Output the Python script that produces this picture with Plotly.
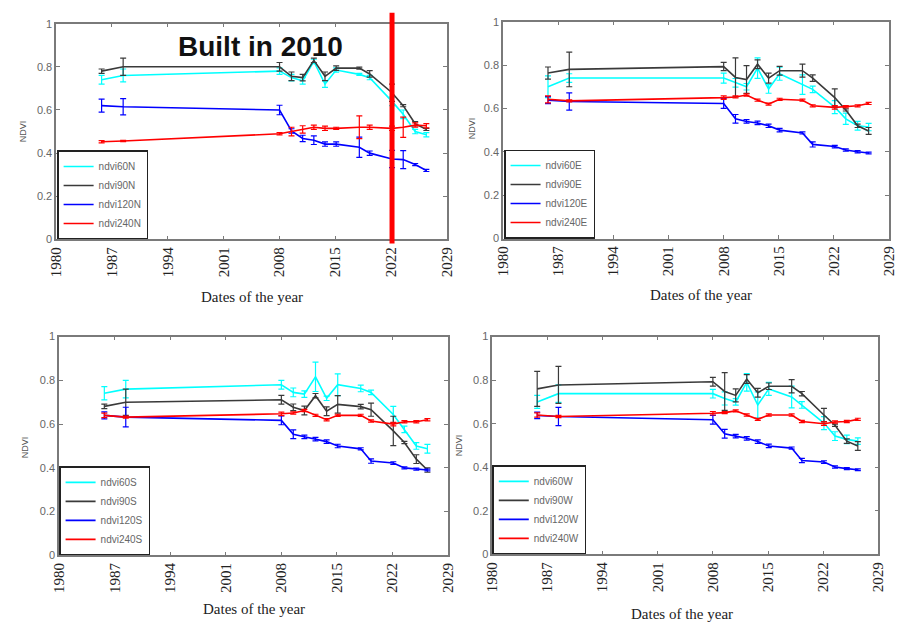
import plotly.graph_objects as go

# ---------------- data ----------------
years = [1985.7, 1988.4, 2008.0, 2009.5, 2010.9, 2012.3, 2013.7, 2015.1,
         2018.0, 2019.3, 2022.1, 2023.5, 2025.0, 2026.4]
x_ticks = [1980, 1987, 1994, 2001, 2008, 2015, 2022, 2029]
y_ticks = [0, 0.2, 0.4, 0.6, 0.8, 1]

# North
ndvi60N = [0.74, 0.76, 0.78, 0.75, 0.735, 0.825, 0.72, 0.785, 0.765, 0.75, 0.64, 0.58, 0.50, 0.485]
ndvi60N_err = [0.02, 0.03, 0.015, 0.015, 0.015, 0.01, 0.015, 0.01, 0.005, 0.01, 0.02, 0.02, 0.01, 0.01]
ndvi90N = [0.78, 0.80, 0.80, 0.756, 0.75, 0.83, 0.756, 0.794, 0.794, 0.767, 0.68, 0.62, 0.536, 0.51]
ndvi90N_err = [0.01, 0.04, 0.02, 0.02, 0.015, 0.01, 0.02, 0.01, 0.005, 0.015, 0.04, 0.005, 0.01, 0.005]
ndvi120N = [0.62, 0.615, 0.60, 0.503, 0.468, 0.46, 0.442, 0.442, 0.427, 0.40, 0.373, 0.37, 0.347, 0.32]
ndvi120N_err = [0.03, 0.038, 0.022, 0.01, 0.015, 0.02, 0.01, 0.01, 0.047, 0.01, 0.04, 0.042, 0.005, 0.005]
ndvi240N = [0.453, 0.456, 0.49, 0.50, 0.51, 0.52, 0.515, 0.515, 0.52, 0.52, 0.515, 0.52, 0.53, 0.527]
ndvi240N_err = [0.005, 0.003, 0.005, 0.02, 0.017, 0.01, 0.01, 0.005, 0.053, 0.01, 0.01, 0.047, 0.01, 0.01]

# East
ndvi60E = [0.70, 0.74, 0.74, 0.718, 0.70, 0.786, 0.69, 0.76, 0.71, 0.688, 0.606, 0.552, 0.52, 0.514]
ndvi60E_err = [0.05, 0.02, 0.023, 0.02, 0.015, 0.047, 0.02, 0.03, 0.045, 0.015, 0.03, 0.026, 0.02, 0.017]
ndvi90E = [0.763, 0.78, 0.793, 0.743, 0.733, 0.804, 0.74, 0.774, 0.774, 0.74, 0.65, 0.593, 0.52, 0.496]
ndvi90E_err = [0.028, 0.08, 0.019, 0.09, 0.064, 0.02, 0.023, 0.02, 0.03, 0.015, 0.04, 0.005, 0.008, 0.016]
ndvi120E = [0.638, 0.632, 0.623, 0.552, 0.54, 0.533, 0.52, 0.50, 0.487, 0.434, 0.424, 0.408, 0.40, 0.394]
ndvi120E_err = [0.016, 0.04, 0.023, 0.02, 0.008, 0.008, 0.008, 0.008, 0.005, 0.012, 0.006, 0.005, 0.005, 0.004]
ndvi240E = [0.642, 0.635, 0.65, 0.653, 0.662, 0.638, 0.62, 0.642, 0.638, 0.612, 0.605, 0.608, 0.612, 0.623]
ndvi240E_err = [0.016, 0.005, 0.008, 0.005, 0.005, 0.005, 0.005, 0.005, 0.005, 0.005, 0.008, 0.005, 0.005, 0.005]

# South
ndvi60S = [0.741, 0.76, 0.78, 0.745, 0.737, 0.816, 0.718, 0.78, 0.763, 0.745, 0.644, 0.576, 0.50, 0.487]
ndvi60S_err = [0.03, 0.04, 0.02, 0.02, 0.015, 0.067, 0.01, 0.05, 0.015, 0.01, 0.037, 0.015, 0.015, 0.02]
ndvi90S = [0.681, 0.70, 0.711, 0.677, 0.662, 0.73, 0.659, 0.69, 0.68, 0.666, 0.569, 0.516, 0.44, 0.39]
ndvi90S_err = [0.01, 0.06, 0.02, 0.015, 0.02, 0.01, 0.02, 0.04, 0.01, 0.03, 0.067, 0.005, 0.02, 0.01]
ndvi120S = [0.64, 0.632, 0.617, 0.554, 0.542, 0.531, 0.52, 0.50, 0.487, 0.431, 0.422, 0.40, 0.394, 0.39]
ndvi120S_err = [0.016, 0.045, 0.02, 0.02, 0.008, 0.008, 0.008, 0.008, 0.005, 0.01, 0.006, 0.005, 0.005, 0.004]
ndvi240S = [0.64, 0.632, 0.647, 0.651, 0.662, 0.64, 0.62, 0.64, 0.64, 0.614, 0.60, 0.611, 0.611, 0.62]
ndvi240S_err = [0.01, 0.005, 0.008, 0.005, 0.005, 0.005, 0.005, 0.005, 0.005, 0.005, 0.008, 0.005, 0.005, 0.005]

# West
ndvi60W = [0.70, 0.738, 0.738, 0.716, 0.70, 0.79, 0.686, 0.76, 0.723, 0.686, 0.603, 0.543, 0.528, 0.52]
ndvi60W_err = [0.03, 0.04, 0.02, 0.03, 0.015, 0.04, 0.06, 0.03, 0.05, 0.015, 0.03, 0.02, 0.02, 0.015]
ndvi90W = [0.76, 0.778, 0.793, 0.748, 0.73, 0.805, 0.742, 0.772, 0.772, 0.738, 0.64, 0.593, 0.52, 0.498]
ndvi90W_err = [0.08, 0.085, 0.02, 0.087, 0.03, 0.02, 0.02, 0.015, 0.03, 0.01, 0.03, 0.005, 0.01, 0.02]
ndvi120W = [0.638, 0.633, 0.618, 0.554, 0.543, 0.533, 0.518, 0.498, 0.488, 0.431, 0.424, 0.401, 0.394, 0.389]
ndvi120W_err = [0.015, 0.042, 0.02, 0.02, 0.008, 0.008, 0.008, 0.008, 0.005, 0.01, 0.006, 0.005, 0.005, 0.004]
ndvi240W = [0.64, 0.633, 0.648, 0.651, 0.659, 0.64, 0.62, 0.64, 0.64, 0.61, 0.60, 0.608, 0.61, 0.62]
ndvi240W_err = [0.01, 0.005, 0.008, 0.005, 0.005, 0.005, 0.005, 0.005, 0.005, 0.005, 0.008, 0.005, 0.005, 0.005]

built_year = 2022.1
annotation_text = "Built in 2010"

# ---------------- figure ----------------
W, H = 904, 632
colors = ["#00ffff", "#3a3a3a", "#0000ff", "#ff0000"]

panels = [
    dict(suffix="N", series=[(ndvi60N, ndvi60N_err), (ndvi90N, ndvi90N_err), (ndvi120N, ndvi120N_err), (ndvi240N, ndvi240N_err)],
         box=(49, 447, 18, 238), leg=(50, 238), title=(248, 297), ylab=(15, 128)),
    dict(suffix="E", series=[(ndvi60E, ndvi60E_err), (ndvi90E, ndvi90E_err), (ndvi120E, ndvi120E_err), (ndvi240E, ndvi240E_err)],
         box=(504, 897, 16, 237), leg=(505, 237), title=(705, 295), ylab=(472, 125)),
    dict(suffix="S", series=[(ndvi60S, ndvi60S_err), (ndvi90S, ndvi90S_err), (ndvi120S, ndvi120S_err), (ndvi240S, ndvi240S_err)],
         box=(52, 448, 337, 560), leg=(52, 560), title=(250, 615), ylab=(18, 450)),
    dict(suffix="W", series=[(ndvi60W, ndvi60W_err), (ndvi90W, ndvi90W_err), (ndvi120W, ndvi120W_err), (ndvi240W, ndvi240W_err)],
         box=(493, 886, 337, 559), leg=(493, 559), title=(686, 620), ylab=(460, 448)),
]
names = ["ndvi60", "ndvi90", "ndvi120", "ndvi240"]

fig = go.Figure()
layout = dict(width=W, height=H, margin=dict(l=0, r=0, t=0, b=0),
              paper_bgcolor="white", plot_bgcolor="white", showlegend=True,
              annotations=[], shapes=[])

for i, p in enumerate(panels):
    k = "" if i == 0 else str(i + 1)
    xa, ya = "x" + k, "y" + k
    lg = "legend" + k
    for j, (vals, errs) in enumerate(p["series"]):
        fig.add_trace(go.Scatter(
            x=years, y=vals, mode="lines", name=names[j] + p["suffix"],
            line=dict(color=colors[j], width=1.6),
            error_y=dict(type="data", array=errs, visible=True, color=colors[j], thickness=1.2, width=3),
            xaxis=xa, yaxis=ya, legend=lg))
    x0, x1, y0, y1 = p["box"]
    axcommon = dict(showgrid=False, zeroline=False, showline=True, linecolor="#7a7a7a", linewidth=1.5,
                    mirror="ticks", ticks="inside", ticklen=4, tickcolor="#7a7a7a", tickwidth=1)
    layout["xaxis" + k] = dict(axcommon, domain=[x0 / W, x1 / W], range=[1980, 2029], tickvals=x_ticks,
                               tickangle=-90, anchor=ya,
                               tickfont=dict(family="Liberation Serif", size=15, color="#222"))
    layout["yaxis" + k] = dict(axcommon, domain=[1 - y1 / H, 1 - y0 / H], range=[0, 1], tickvals=y_ticks,
                               ticktext=[str(v) if v not in (0, 1) else str(int(v)) for v in y_ticks],
                               anchor=xa, tickfont=dict(family="Liberation Sans", size=11, color="#666"))
    lx, ly = p["leg"]
    layout[lg] = dict(x=lx / W, y=1 - ly / H, xanchor="left", yanchor="bottom",
                      bgcolor="white", bordercolor="#222", borderwidth=1.5,
                      font=dict(family="Liberation Sans", size=10, color="#666"),
                      tracegroupgap=0, itemwidth=30)
    tx, ty = p["title"]
    layout["annotations"].append(dict(text="Dates of the year", x=tx / W, y=1 - ty / H, xref="paper", yref="paper",
                                      showarrow=False, xanchor="center", yanchor="middle",
                                      font=dict(family="Liberation Serif", size=15, color="#222")))
    nx, ny = p["ylab"]
    layout["annotations"].append(dict(text="NDVI", x=nx / W, y=1 - ny / H, xref="paper", yref="paper",
                                      showarrow=False, textangle=-90, xanchor="center", yanchor="middle",
                                      font=dict(family="Liberation Sans", size=9, color="#555")))

layout["annotations"].append(dict(text="<b>" + annotation_text + "</b>", x=257 / W, y=1 - 41 / H,
                                  xref="paper", yref="paper", showarrow=False,
                                  xanchor="center", yanchor="middle",
                                  font=dict(family="Liberation Sans", size=28, color="#111")))
layout["shapes"].append(dict(type="line", xref="x", yref="paper", x0=built_year, x1=built_year,
                             y0=1 - 242 / H, y1=1 - 7 / H, line=dict(color="#ff0000", width=5)))

fig.update_layout(**layout)
fig.write_html("out.html")
